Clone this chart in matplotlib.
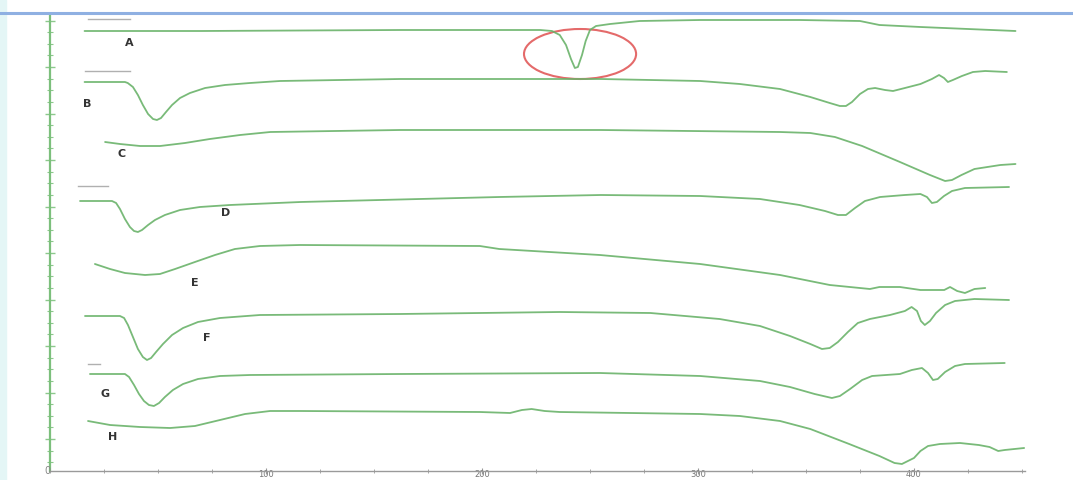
import numpy as np
import matplotlib
matplotlib.use("Agg")
import matplotlib.pyplot as plt
from matplotlib.patches import Ellipse, Rectangle
from matplotlib.lines import Line2D
from matplotlib.ticker import MultipleLocator, FixedLocator, NullFormatter

# DSC traces, temperature (deg C) vs stacked heat flow (arbitrary offset units)
t_a = [16, 70, 162, 227, 232.4, 236, 238.9, 241.2, 243, 244.4, 246.3, 248, 250, 252.8, 259.3,
       273, 301, 347, 375, 384, 403, 447]
y_a = [440, 440, 441, 441, 440, 436, 426, 412, 403, 404, 416, 430, 441, 445, 447,
       450, 451, 451, 450, 446, 444, 440]

t_b = [16, 34.7, 36, 38.4, 40.7, 43, 45.4, 47.7, 49.5, 51.4, 53.7, 56.5, 60.2, 64.8, 71.8, 81,
       92.6, 106.5, 162, 255, 301, 319.4, 338, 352, 361, 365.7, 368.5, 371.3, 375, 378.7, 382,
       386.6, 390.3, 395.8, 403, 408.3, 411.6, 413.9, 415.7, 418, 422.2, 427.3, 433, 443]
y_b = [389, 389, 388, 384, 376, 366, 357, 352, 351, 353, 359, 366, 373, 378, 383, 386,
       388, 390, 392, 392, 390, 387, 382, 374, 368, 365, 365, 369, 377, 382, 383,
       381, 380, 383, 387, 392, 396, 393, 389, 391, 395, 399, 400, 399]

t_c = [25.5, 32.4, 41.7, 51, 62.5, 74, 88, 102, 162, 255, 338, 352, 363.4, 376, 393.5, 407.4,
       414.4, 417.6, 422, 428, 440, 447]
y_c = [329, 327, 325, 325, 328, 332, 336, 339, 341, 341, 339, 338, 334, 325, 309, 296,
       290, 291, 296, 302, 306, 307]

t_d = [13.9, 28.7, 30.6, 32.4, 34.7, 37, 38.9, 40.7, 42.6, 45.4, 48.6, 53.2, 60.2, 69.4, 83.3,
       116, 208, 255, 301, 328.7, 347, 358.8, 364.8, 368.5, 372.7, 377.3, 384.3, 395.8, 403,
       406, 408.3, 410.6, 413.9, 417.6, 423.6, 444]
y_d = [270, 270, 268, 262, 252, 244, 240, 239, 241, 246, 251, 256, 261, 264, 266,
       269, 274, 276, 275, 272, 266, 260, 256, 256, 263, 270, 274, 276, 277,
       274, 268, 269, 275, 280, 283, 284]

t_e = [20.8, 27.8, 34.7, 44, 50.9, 57.9, 67.1, 76.4, 85.6, 97.2, 115.7, 199, 208, 254.6, 301,
       338, 361, 379.6, 384, 393.5, 403, 414, 416.7, 420, 423.6, 428, 433]
y_e = [207, 202, 198, 196, 197, 202, 209, 216, 222, 225, 226, 225, 222, 216, 207,
       196, 186, 182, 184, 184, 181, 181, 184, 180, 178, 182, 183]

t_f = [16.2, 32.4, 34.3, 36.1, 38.4, 40.7, 43, 44.9, 46.8, 49.1, 52.3, 56.5, 61.6, 68.5, 78.7,
       97.2, 162, 236, 278, 310, 328.7, 342.6, 352, 357.4, 361, 364.8, 369.4, 374, 379.6, 388.9,
       395.8, 398.9, 401.4, 403.2, 405, 407.4, 410.2, 414.4, 419, 428, 444]
y_f = [155, 155, 153, 146, 134, 122, 114, 111, 113, 119, 127, 136, 143, 149, 153,
       156, 157, 159, 158, 152, 145, 135, 127, 122, 123, 129, 139, 148, 152, 156,
       160, 164, 160, 150, 146, 150, 158, 166, 170, 172, 171]

t_g = [18.5, 34.7, 36.6, 38.9, 41.2, 43.5, 45.8, 48.1, 50.5, 53.2, 56.9, 61.6, 68.5, 78.7, 92.6,
       162, 254.6, 301, 328.7, 342.6, 354, 362, 365.7, 370.4, 376, 380.6, 393.5, 399, 403.7,
       406.5, 408.8, 411, 414.4, 419, 423.6, 442]
y_g = [97, 97, 94, 86, 77, 70, 66, 65, 68, 74, 81, 87, 92, 95, 96,
       97, 98, 95, 90, 84, 77, 73, 75, 82, 91, 95, 97, 101, 103,
       98, 91, 92, 99, 105, 107, 108]

t_h = [17.6, 27.8, 41.7, 55.6, 67.1, 78.7, 90.3, 101.9, 115.7, 199, 213, 218.5, 223, 229, 236,
       301, 319.4, 338, 352, 370, 384, 391, 394.4, 397.2, 400, 403, 406.5, 412, 421.3, 430, 435,
       439, 442, 451]
y_h = [50, 46, 44, 43, 45, 51, 57, 60, 60, 59, 58, 61, 62, 60, 59,
       57, 55, 50, 42, 27, 15, 8, 7, 10, 13, 20, 25, 27, 28, 26, 24,
       20, 21, 23]

curves = [(t_a, y_a), (t_b, y_b), (t_c, y_c), (t_d, y_d),
          (t_e, y_e), (t_f, y_f), (t_g, y_g), (t_h, y_h)]

labels = ["A", "B", "C", "D", "E", "F", "G", "H"]
label_t = [36.6, 17, 33.3, 81.5, 67, 72.7, 25.5, 29]
label_y = [428, 367, 317, 258, 188, 133, 77, 34]

# short reference bars above some traces
bar_t = [(17.6, 37), (16, 37), (13, 27), (17.6, 23)]
bar_y = [452, 400, 285, 107]

x_ticks = [100, 200, 300, 400]

fig = plt.figure(figsize=(10.73, 4.8), dpi=100)
fig.patches.append(Rectangle((0, 0), 6 / 1073, 1, transform=fig.transFigure,
                             color="#e4f6f6", zorder=0))
fig.lines.append(Line2D([0, 1], [1 - 13 / 480, 1 - 13 / 480], transform=fig.transFigure,
                        color="#8fb0e2", lw=2.2))

ax = fig.add_axes([50 / 1073, 9 / 480, 975 / 1073, 456 / 480])
ax.set_xlim(0, 451.4)
ax.set_ylim(0, 456)

green = "#6ab36a"
for t, y in curves:
    ax.plot(t, y, color=green, lw=1.3, solid_joinstyle="round",
            solid_capstyle="round", alpha=0.9)

for (t0, t1), yb in zip(bar_t, bar_y):
    ax.plot([t0, t1], [yb, yb], color="#b0b0b0", lw=1.0)

for lab, lt, ly in zip(labels, label_t, label_y):
    ax.text(lt, ly, lab, fontsize=8, fontweight="bold", color="#333333",
            ha="center", va="center")

ax.add_patch(Ellipse((245.4, 417), 51.9, 50, fill=False, edgecolor="#e46a6a", lw=1.5))

# axes styling
for side in ("top", "right"):
    ax.spines[side].set_visible(False)
ax.spines["left"].set_color("#7cbf7c")
ax.spines["left"].set_linewidth(1.6)
ax.spines["bottom"].set_color("#9a9a9a")
ax.spines["bottom"].set_linewidth(1.0)

ax.xaxis.set_major_locator(FixedLocator(x_ticks))
ax.xaxis.set_minor_locator(MultipleLocator(25))
ax.set_xticklabels([str(v) for v in x_ticks])
ax.tick_params(axis="x", which="both", direction="inout", colors="#999999",
               labelcolor="#777777", labelsize=6, pad=-2.5)
ax.tick_params(axis="x", which="major", length=4)
ax.tick_params(axis="x", which="minor", length=3)

ax.yaxis.set_major_locator(FixedLocator(np.arange(32, 456, 46.5)))
ax.yaxis.set_minor_locator(FixedLocator(np.arange(8.75, 456, 11.625)))
ax.yaxis.set_major_formatter(NullFormatter())
ax.tick_params(axis="y", which="both", direction="inout", colors="#8cc98c")
ax.tick_params(axis="y", which="major", length=7, width=1.0)
ax.tick_params(axis="y", which="minor", length=4, width=0.8)

ax.text(-1, 0, "0", fontsize=7, color="#888888", ha="center", va="center",
        clip_on=False)

fig.savefig("out.png", dpi=100)
